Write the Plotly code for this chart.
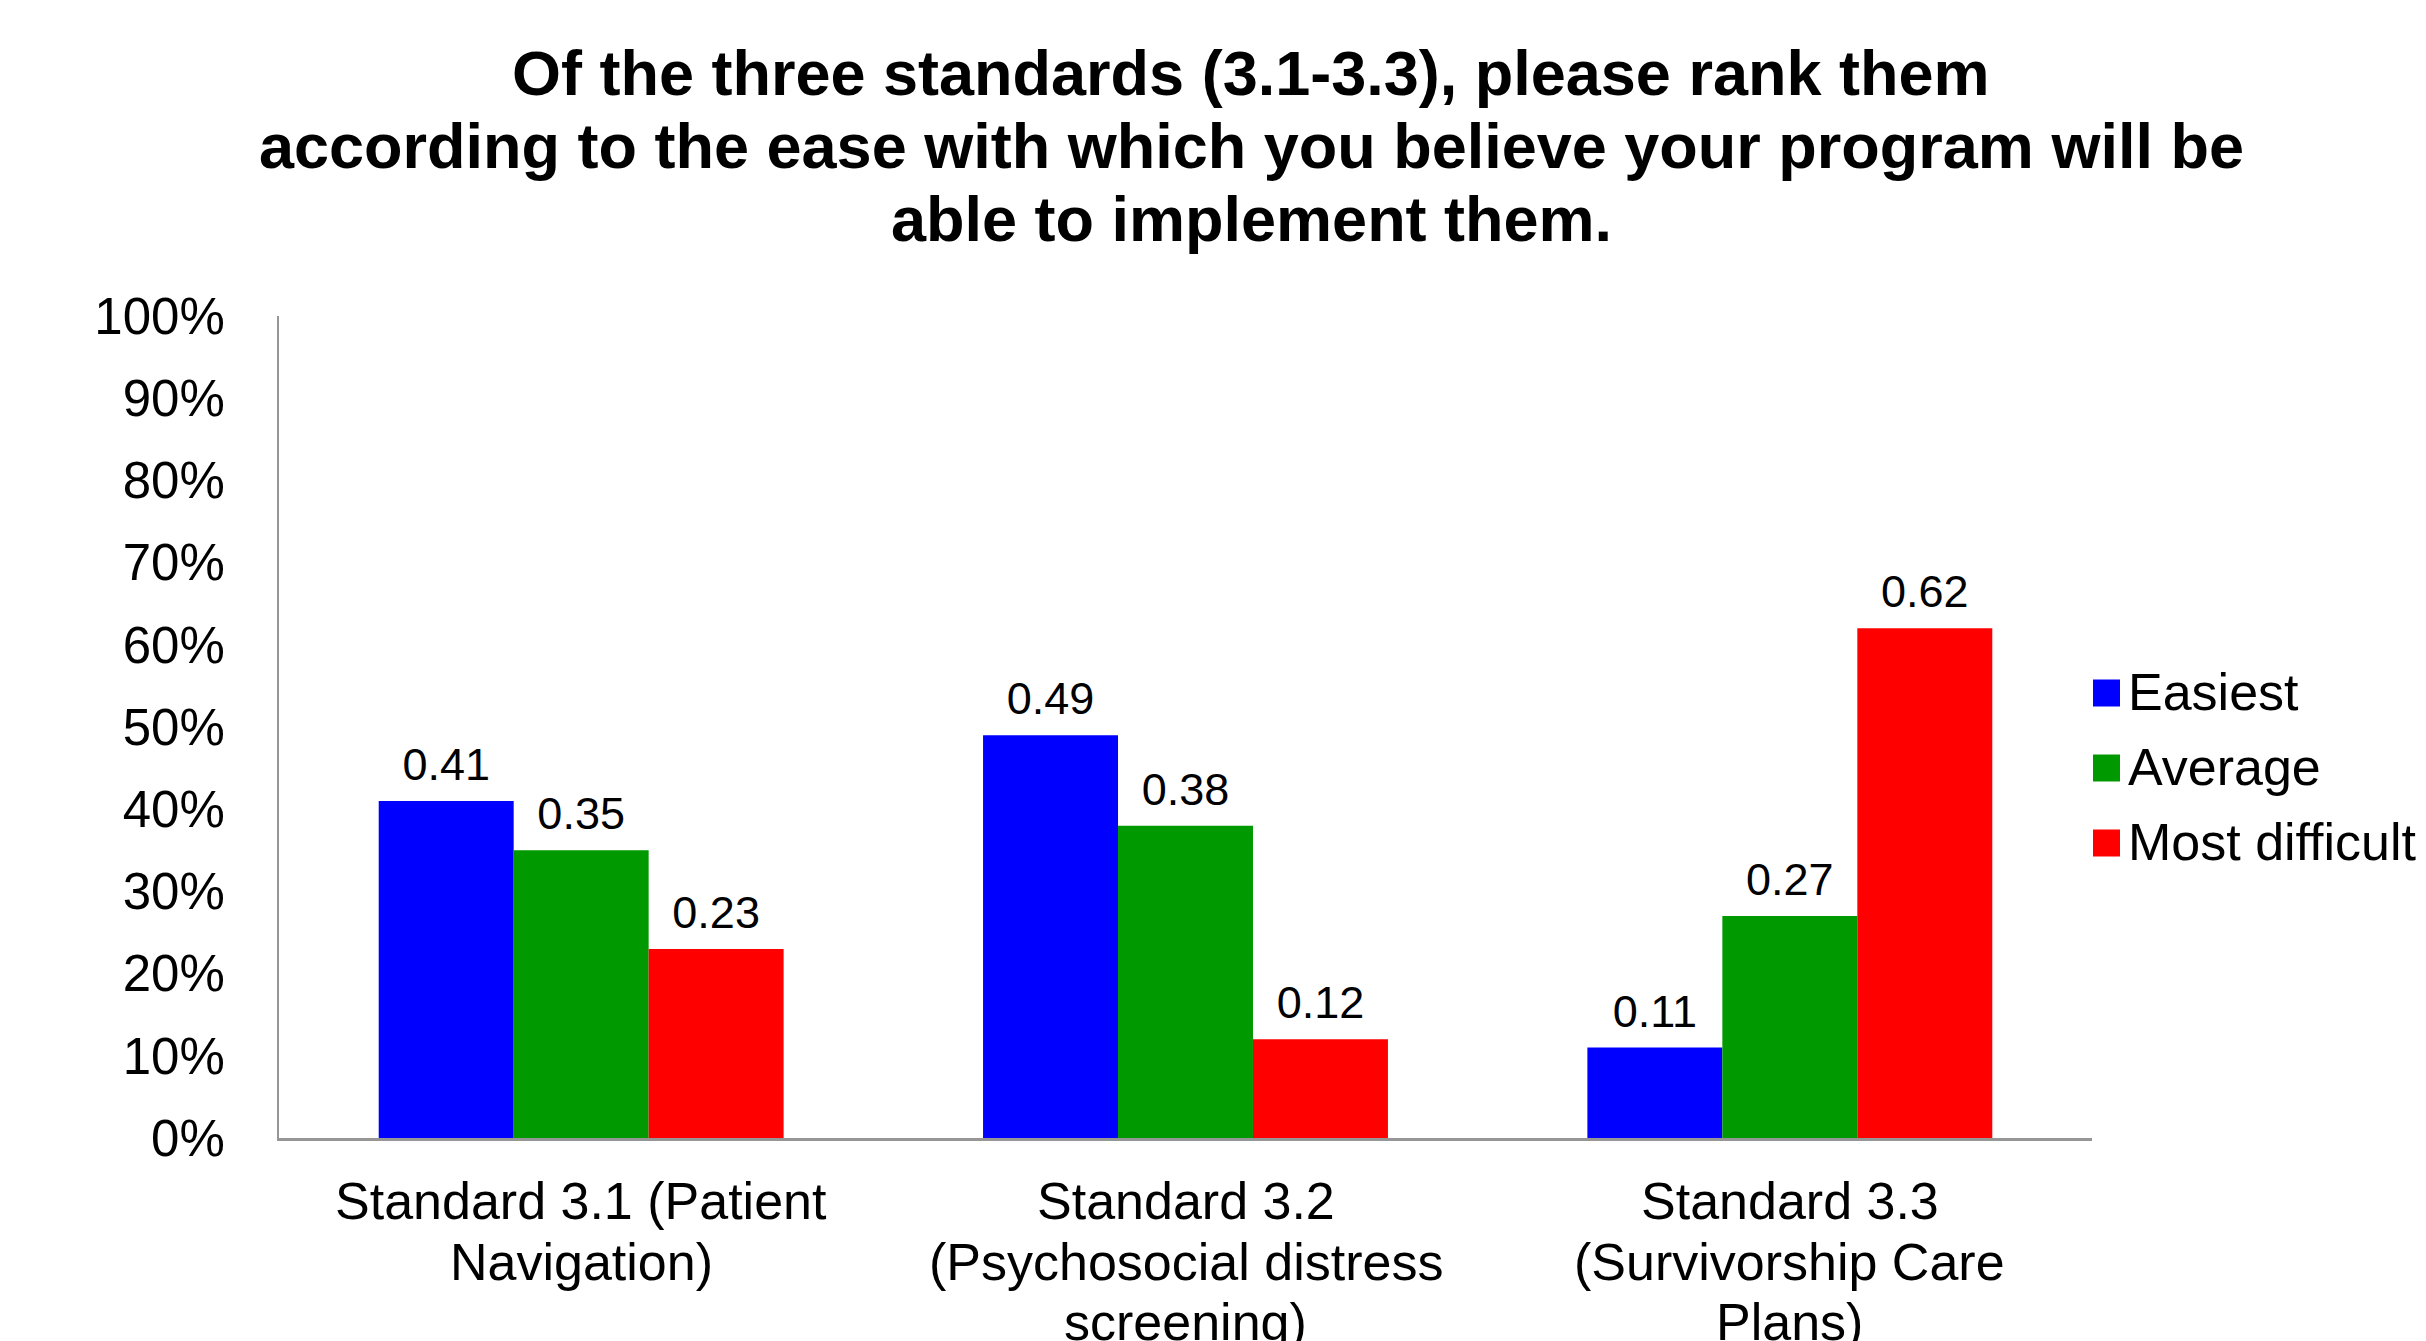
import plotly.graph_objects as go

categories = [
    "Standard 3.1 (Patient Navigation)",
    "Standard 3.2 (Psychosocial distress screening)",
    "Standard 3.3 (Survivorship Care Plans)",
]
category_label_lines = [
    ["Standard 3.1 (Patient", "Navigation)"],
    ["Standard 3.2", "(Psychosocial distress", "screening)"],
    ["Standard 3.3", "(Survivorship Care", "Plans)"],
]
series_names = ["Easiest", "Average", "Most difficult"]
easiest = [0.41, 0.49, 0.11]
average = [0.35, 0.38, 0.27]
most_difficult = [0.23, 0.12, 0.62]
series_values = [easiest, average, most_difficult]
series_colors = ["#0000FF", "#009900", "#FF0000"]
y_tickvals = [i / 10 for i in range(11)]
y_ticktext = [f"{i*10}%" for i in range(11)]

title_lines = [
    "Of the three standards (3.1-3.3), please rank them",
    "according to the ease with which you believe your program will be",
    "able to implement them.",
]

W, H = 2426, 1341
L, R, T, B = 271, 2084, 308, 1130
FONT = "Liberation Sans, Arial, sans-serif"
GAP = 0.33

fig = go.Figure()
for name, vals, col in zip(series_names, series_values, series_colors):
    fig.add_trace(go.Bar(
        name=name, x=categories, y=vals,
        offsetgroup=name,
        marker=dict(color=col, line=dict(width=0)),
        showlegend=False,
    ))
# value labels, grouped the same way as the bars
for name, vals in zip(series_names, series_values):
    fig.add_trace(go.Scatter(
        name=name, x=categories, y=vals,
        offsetgroup=name,
        mode="markers+text",
        marker=dict(size=14, opacity=0),
        text=[f"{v:.2f}" for v in vals],
        textposition="top center",
        cliponaxis=False,
        textfont=dict(size=45, color="black", family=FONT),
        hoverinfo="skip",
        showlegend=False,
    ))


def px_x(px):
    return (px - L) / (R - L)


def px_y(py):
    return (B - py) / (B - T)


shapes = []
annotations = []

# title lines
title_y = [65, 138, 211]
for line, cy in zip(title_lines, title_y):
    annotations.append(dict(xref="paper", yref="paper", x=px_x(1243), y=px_y(cy),
                            xanchor="center", yanchor="middle", showarrow=False,
                            text=f"<b>{line}</b>",
                            font=dict(size=63, color="black", family=FONT)))

# category labels (line spacing as in the reference)
label_line_y = [1193, 1254, 1314]
for cat, lines in zip(categories, category_label_lines):
    for line, cy in zip(lines, label_line_y):
        annotations.append(dict(xref="x", yref="paper", x=cat, y=px_y(cy),
                                xanchor="center", yanchor="middle", showarrow=False,
                                text=line,
                                font=dict(size=52, color="black", family=FONT)))

# manual legend (larger swatches as in the reference)
legend_y = [685, 760, 835]
for name, col, cy in zip(series_names, series_colors, legend_y):
    shapes.append(dict(type="rect", xref="paper", yref="paper",
                       x0=px_x(2085), x1=px_x(2112),
                       y0=px_y(cy + 13.5), y1=px_y(cy - 13.5),
                       fillcolor=col, line=dict(width=0)))
    annotations.append(dict(xref="paper", yref="paper", x=px_x(2118), y=px_y(cy - 1),
                            xanchor="left", yanchor="middle", showarrow=False,
                            text=name, font=dict(size=52, color="black", family=FONT)))

fig.update_layout(
    width=W, height=H,
    margin=dict(l=L, r=W - R, t=T, b=H - B, autoexpand=False),
    paper_bgcolor="white", plot_bgcolor="white",
    barmode="group", bargap=GAP, bargroupgap=0,
    scattermode="group", scattergap=GAP,
    font=dict(family=FONT, color="black"),
    shapes=shapes,
    annotations=annotations,
    showlegend=False,
)
fig.update_yaxes(range=[0, 1], tickvals=y_tickvals, ticktext=y_ticktext,
                 showgrid=False, zeroline=False, showline=True,
                 linecolor="#969696", linewidth=2, ticks="",
                 ticklabelstandoff=42, automargin=False,
                 tickfont=dict(size=51, color="black", family=FONT))
fig.update_xaxes(showgrid=False, showline=True, linecolor="#969696", linewidth=2.5,
                 ticks="", showticklabels=False, automargin=False)

fig.write_html("out.html")
